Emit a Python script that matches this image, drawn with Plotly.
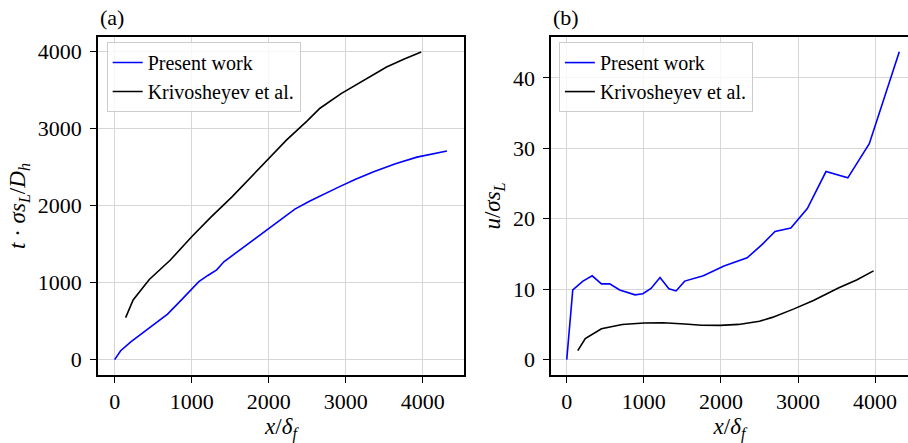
import plotly.graph_objects as go
from plotly.subplots import make_subplots

# ---- data ----
present_x = [0, 78, 210, 330, 450, 557, 687, 886, 988, 1093, 1210, 1325, 1418, 1530,
             1772, 2040, 2340, 2529, 2702, 2907, 3121, 3363, 3646, 3925, 4314]
present_t = [0, 115, 230, 320, 410, 500, 590, 795, 900, 1012, 1093, 1166, 1270, 1354,
             1535, 1733, 1955, 2057, 2145, 2240, 2340, 2440, 2545, 2630, 2710]
present_u = [0, 9.9, 11.15, 11.9, 10.75, 10.75, 9.9, 9.2, 9.35, 10.1, 11.65, 10.05, 9.75, 11.15,
             11.9, 13.3, 14.45, 16.3, 18.2, 18.7, 21.45, 26.7, 25.8, 30.65, 43.7]

kriv_x = [143, 240, 450, 720, 1000, 1250, 1530, 1750, 1990, 2230, 2500, 2666, 2940, 3200,
          3530, 3760, 3980]
kriv_t = [545, 775, 1040, 1290, 1595, 1850, 2120, 2350, 2610, 2850, 3100, 3265, 3455, 3610,
          3800, 3905, 3995]
kriv_u = [1.27, 3.0, 4.38, 5.0, 5.2, 5.23, 5.05, 4.88, 4.86, 5.0, 5.45, 6.0, 7.17, 8.4,
          10.2, 11.3, 12.6]

xticks = [0, 1000, 2000, 3000, 4000]
yticks_a = [0, 1000, 2000, 3000, 4000]
yticks_b = [0, 10, 20, 30, 40]

BLUE = "#0000ff"
BLACK = "#000000"
FONT = "Liberation Serif"
GRID = "#d6d6d6"
TS = 22
LS = 20

fig = make_subplots(rows=1, cols=2)

fig.add_trace(go.Scatter(x=present_x, y=present_t, mode="lines", name="Present work",
                         line=dict(color=BLUE, width=1.6), legend="legend"), row=1, col=1)
fig.add_trace(go.Scatter(x=kriv_x, y=kriv_t, mode="lines", name="Krivosheyev et al.",
                         line=dict(color=BLACK, width=1.6), legend="legend"), row=1, col=1)
fig.add_trace(go.Scatter(x=present_x, y=present_u, mode="lines", name="Present work",
                         line=dict(color=BLUE, width=1.6), legend="legend2"), row=1, col=2)
fig.add_trace(go.Scatter(x=kriv_x, y=kriv_u, mode="lines", name="Krivosheyev et al.",
                         line=dict(color=BLACK, width=1.6), legend="legend2"), row=1, col=2)

axis_common = dict(showgrid=True, gridcolor=GRID, gridwidth=1, zeroline=False,
                   showline=True, linecolor="black", linewidth=1.5, automargin=False,
                   ticks="outside", ticklen=6, tickwidth=1.2, tickcolor="black",
                   tickfont=dict(family=FONT, size=TS, color="black"))

fig.update_xaxes(**axis_common)
fig.update_yaxes(**axis_common)

fig.update_layout(
    xaxis=dict(domain=[0, 0.4519], range=[-216, 4536], tickvals=xticks, mirror=True,
               title=dict(text="<i>x</i>/<i>δ</i><sub><i>f</i></sub>", standoff=6,
                          font=dict(family=FONT, size=23, color="black"))),
    yaxis=dict(range=[-200, 4190], tickvals=yticks_a, mirror=True, ticklabelstandoff=4,
               title=dict(text="<i>t</i> · <i>σs</i><sub><i>L</i></sub>/<i>D</i><sub><i>h</i></sub>",
                          standoff=6, font=dict(family=FONT, size=23, color="black"))),
    xaxis2=dict(domain=[0.5593, 1.0], range=[-204, 4427], tickvals=xticks, mirror=True,
                title=dict(text="<i>x</i>/<i>δ</i><sub><i>f</i></sub>", standoff=6,
                           font=dict(family=FONT, size=23, color="black"))),
    yaxis2=dict(range=[-2.18, 45.8], tickvals=yticks_b, mirror=False, ticklabelstandoff=4,
                title=dict(text="<i>u</i>/<i>σs</i><sub><i>L</i></sub>",
                           standoff=6, font=dict(family=FONT, size=23, color="black"))),
)

legend_common = dict(bgcolor="rgba(255,255,255,0.8)", bordercolor="#cccccc", borderwidth=1,
                     font=dict(family=FONT, size=LS, color="black"),
                     xanchor="left", yanchor="top", tracegroupgap=0)
fig.update_layout(
    legend=dict(x=0.0107, y=0.985, **legend_common),
    legend2=dict(x=0.569, y=0.985, **legend_common),
)

fig.add_annotation(text="(a)", xref="paper", yref="paper", x=0.0, y=1.059,
                   xanchor="left", yanchor="middle", showarrow=False,
                   font=dict(family=FONT, size=TS, color="black"))
fig.add_annotation(text="(b)", xref="paper", yref="paper", x=0.5593, y=1.059,
                   xanchor="left", yanchor="middle", showarrow=False,
                   font=dict(family=FONT, size=TS, color="black"))

fig.update_layout(width=908, height=443, margin=dict(l=98, r=0, t=37, b=68),
                  plot_bgcolor="white", paper_bgcolor="white", showlegend=True,
                  font=dict(family=FONT, color="black"))

fig.write_html("out.html", config={"displayModeBar": False},
               post_script="document.body.style.margin='0';document.body.style.padding='0';")
